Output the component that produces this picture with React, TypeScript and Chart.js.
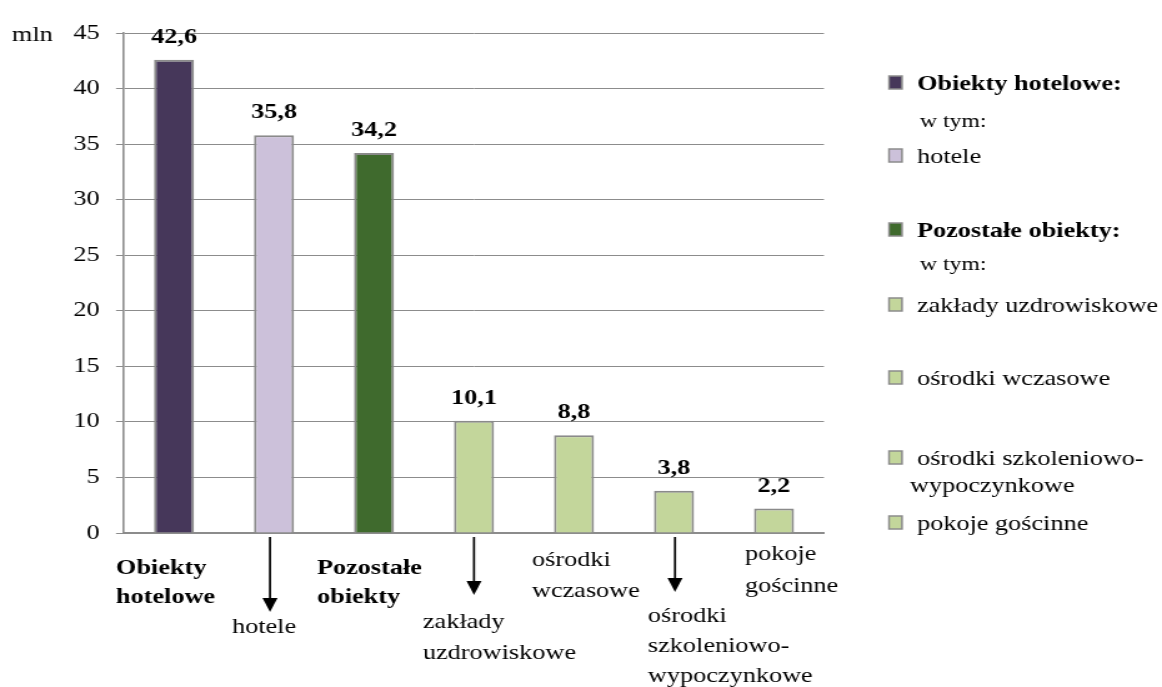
import React, { useEffect, useRef } from 'react';
import { Chart, registerables } from 'chart.js';

Chart.register(...registerables);

// ---------- data ----------
const categories = [
  'Obiekty hotelowe',
  'hotele',
  'Pozostałe obiekty',
  'zakłady uzdrowiskowe',
  'ośrodki wczasowe',
  'ośrodki szkoleniowo-wypoczynkowe',
  'pokoje gościnne',
];
const values = [42.6, 35.8, 34.2, 10.1, 8.8, 3.8, 2.2];
const categoryLines = [
  ['Obiekty', 'hotelowe'],
  ['hotele'],
  ['Pozostałe', 'obiekty'],
  ['zakłady', 'uzdrowiskowe'],
  ['ośrodki', 'wczasowe'],
  ['ośrodki', 'szkoleniowo-', 'wypoczynkowe'],
  ['pokoje', 'gościnne'],
];
const yMin = 0;
const yMax = 45;
const yStep = 5;
const unitLabel = 'mln';
const legendLabels = [
  ['Obiekty hotelowe:'],
  ['w tym:'],
  ['hotele'],
  ['Pozostałe obiekty:'],
  ['w tym:'],
  ['zakłady uzdrowiskowe'],
  ['ośrodki wczasowe'],
  ['ośrodki szkoleniowo-', 'wypoczynkowe'],
  ['pokoje gościnne'],
];

// ---------- styles ----------
const C_DARK_PURPLE = '#46375a';
const C_LIGHT_PURPLE = '#ccc1da';
const C_DARK_GREEN = '#3f6a2d';
const C_LIGHT_GREEN = '#c3d69b';
const barColors = [
  C_DARK_PURPLE,
  C_LIGHT_PURPLE,
  C_DARK_GREEN,
  C_LIGHT_GREEN,
  C_LIGHT_GREEN,
  C_LIGHT_GREEN,
  C_LIGHT_GREEN,
];
const GREY = '#8c8c8c';
const FONT = '"Liberation Serif", "Times New Roman", serif';

// display size vs internal canvas size (text in the reference is horizontally wide)
const DISP_W = 1162;
const DISP_H = 687;
const CANVAS_W = 930;
const F = DISP_W / CANVAS_W;

// layout of the category labels (display px, relative to category centre)
const catLayout = [
  { dx: -58, base: [574, 603], bold: true },
  { dx: -42, base: [633], bold: false, arrow: { dx: -4, tip: 612 } },
  { dx: -57, base: [574, 603], bold: true },
  { dx: -51, base: [628, 659], bold: false, arrow: { dx: 0, tip: 595 } },
  { dx: -42, base: [566, 597], bold: false },
  { dx: -26, base: [622, 652, 682], bold: false, arrow: { dx: 1, tip: 592 } },
  { dx: -29, base: [560, 592], bold: false },
];

// legend layout (display px)
const legendLayout = [
  { base: [90], bold: true, size: 21, color: C_DARK_PURPLE, x: [917] },
  { base: [127], bold: false, size: 19, color: null, x: [920] },
  { base: [163], bold: false, size: 21, color: C_LIGHT_PURPLE, x: [917] },
  { base: [237], bold: true, size: 21, color: C_DARK_GREEN, x: [917] },
  { base: [270], bold: false, size: 19, color: null, x: [920] },
  { base: [312], bold: false, size: 21, color: C_LIGHT_GREEN, x: [917] },
  { base: [385], bold: false, size: 21, color: C_LIGHT_GREEN, x: [917] },
  { base: [465, 492], bold: false, size: 21, color: C_LIGHT_GREEN, x: [917, 910] },
  { base: [530], bold: false, size: 21, color: C_LIGHT_GREEN, x: [917] },
];

const fmt = (v: number) => v.toFixed(1).replace('.', ',');

const overlayPlugin = {
  id: 'overlay',
  afterDraw(chart: any) {
    const ctx = chart.ctx as CanvasRenderingContext2D;
    const xs = chart.scales.x;
    const ys = chart.scales.y;
    ctx.save();
    ctx.fillStyle = '#000';
    ctx.textBaseline = 'alphabetic';

    // unit label
    ctx.font = `21px ${FONT}`;
    ctx.textAlign = 'left';
    ctx.fillText(unitLabel, 12 / F, 41);

    // value labels
    ctx.font = `bold 21px ${FONT}`;
    ctx.textAlign = 'center';
    values.forEach((v, i) => {
      const x = xs.getPixelForValue(i);
      const y = ys.getPixelForValue(v);
      ctx.fillText(fmt(v), x, y - 17);
    });

    // category labels & arrows
    ctx.textAlign = 'left';
    categoryLines.forEach((lines, i) => {
      const lay = catLayout[i];
      const cx = xs.getPixelForValue(i);
      ctx.font = `${lay.bold ? 'bold ' : ''}21px ${FONT}`;
      lines.forEach((t, j) => {
        ctx.fillText(t, cx + lay.dx / F, lay.base[j]);
      });
      if (lay.arrow) {
        const ax = cx + lay.arrow.dx / F;
        const tip = lay.arrow.tip;
        const top = ys.getPixelForValue(yMin) + 4;
        ctx.strokeStyle = '#000';
        ctx.lineWidth = 1.7;
        ctx.beginPath();
        ctx.moveTo(ax, top);
        ctx.lineTo(ax, tip - 12);
        ctx.stroke();
        ctx.beginPath();
        ctx.moveTo(ax, tip);
        ctx.lineTo(ax - 7.5 / F, tip - 14);
        ctx.lineTo(ax + 7.5 / F, tip - 14);
        ctx.closePath();
        ctx.fill();
      }
    });

    // legend
    legendLabels.forEach((lines, i) => {
      const lay = legendLayout[i];
      if (lay.color) {
        const sx = 889 / F;
        const sw = 13 / F;
        const sy = lay.base[0] - 14;
        ctx.fillStyle = lay.color;
        ctx.fillRect(sx, sy, sw, 13);
        ctx.strokeStyle = GREY;
        ctx.lineWidth = 1.5;
        ctx.strokeRect(sx, sy, sw, 13);
      }
      ctx.fillStyle = '#000';
      ctx.font = `${lay.bold ? 'bold ' : ''}${lay.size}px ${FONT}`;
      lines.forEach((t, j) => {
        ctx.fillText(t, lay.x[j] / F, lay.base[j]);
      });
    });

    ctx.restore();
  },
};

export default function App() {
  const ref = useRef<HTMLCanvasElement | null>(null);

  useEffect(() => {
    if (!ref.current) return;
    const chart = new Chart(ref.current, {
      type: 'bar',
      data: {
        labels: categories,
        datasets: [
          {
            data: values,
            backgroundColor: barColors,
            borderColor: '#8a8a8a',
            borderWidth: 2,
            barPercentage: 0.4,
            categoryPercentage: 1.0,
          },
        ],
      },
      options: {
        responsive: false,
        devicePixelRatio: 1,
        animation: false,
        events: [],
        layout: { padding: { left: 0, right: CANVAS_W - 824 / F, top: 33, bottom: 0 } },
        plugins: {
          legend: { display: false },
          tooltip: { enabled: false },
          title: { display: false },
        },
        scales: {
          x: {
            type: 'category',
            grid: { display: true, color: 'rgba(0,0,0,0)', drawTicks: false },
            border: { display: true, color: GREY, width: 2 },
            ticks: { display: false },
            afterFit: (s: any) => {
              s.height = DISP_H - 533;
            },
          },
          y: {
            min: yMin,
            max: yMax,
            ticks: {
              stepSize: yStep,
              color: '#000',
              font: { family: FONT, size: 21 },
              padding: 13,
            },
            grid: { color: GREY, lineWidth: 1, tickLength: 8 / F, drawTicks: true },
            border: { display: true, color: GREY, width: 1.6 },
            afterFit: (s: any) => {
              s.width = 124 / F;
            },
          },
        },
      },
      plugins: [overlayPlugin],
    });
    return () => chart.destroy();
  }, []);

  return (
    <div
      style={{
        position: 'fixed',
        left: 0,
        top: 0,
        width: DISP_W,
        height: DISP_H,
        background: '#fff',
      }}
    >
      <canvas
        ref={ref}
        width={CANVAS_W}
        height={DISP_H}
        style={{ width: `${DISP_W}px`, height: `${DISP_H}px`, display: 'block' }}
      />
    </div>
  );
}
